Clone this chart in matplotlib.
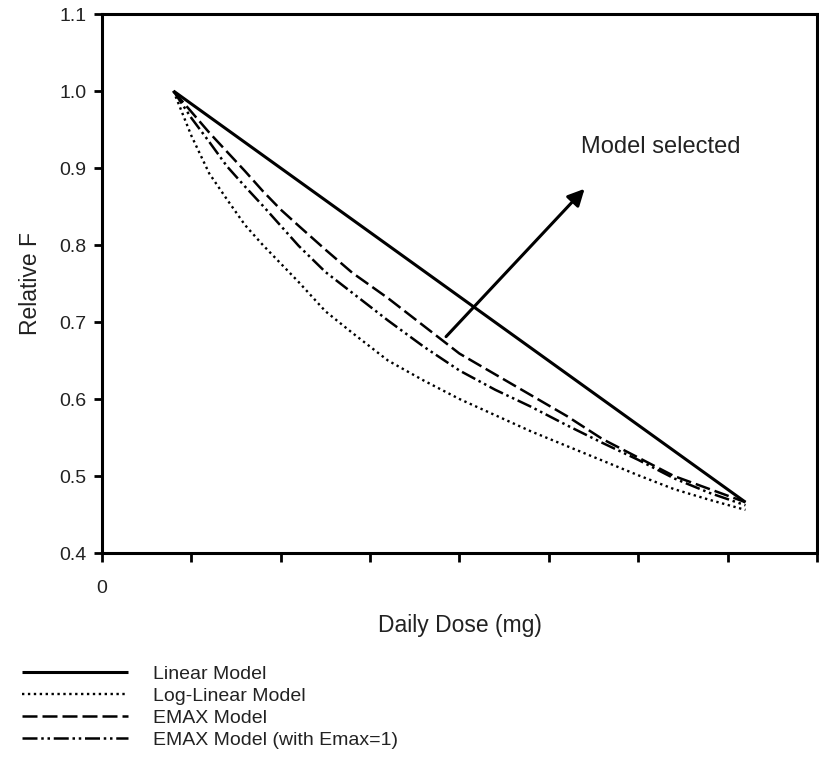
import matplotlib

matplotlib.use("Agg")
import matplotlib.pyplot as plt

plt.rcParams["font.family"] = ["Liberation Sans", "DejaVu Sans"]

# dose axis: 10 mg per tick, only the origin is labelled
dose_ticks = [0, 10, 20, 30, 40, 50, 60, 70, 80]
dose_tick_labels = ["0", "", "", "", "", "", "", "", ""]

linear_dose = [8, 72]
linear_f = [1.0, 0.466]

dose = [8, 10, 12, 14, 16, 18, 20, 22, 25, 28, 32, 36, 40, 44, 48, 52, 56, 60, 64, 68, 72]
loglinear_f = [1.0, 0.942, 0.893, 0.859, 0.826, 0.800, 0.776, 0.752, 0.714, 0.686, 0.650,
               0.624, 0.600, 0.579, 0.558, 0.539, 0.520, 0.501, 0.483, 0.469, 0.456]
emax_f = [1.0, 0.973, 0.946, 0.921, 0.896, 0.870, 0.846, 0.825, 0.794, 0.764, 0.731,
          0.695, 0.659, 0.632, 0.605, 0.578, 0.548, 0.524, 0.500, 0.483, 0.466]
emax1_f = [1.0, 0.965, 0.934, 0.902, 0.876, 0.851, 0.825, 0.799, 0.765, 0.738, 0.702,
           0.668, 0.637, 0.612, 0.590, 0.566, 0.543, 0.521, 0.497, 0.478, 0.462]

labels = ["Linear Model", "Log-Linear Model", "EMAX Model", "EMAX Model (with Emax=1)"]

arrow_tail = (38.5, 0.681)
arrow_head = (54.0, 0.873)

fig = plt.figure(figsize=(8.19, 7.61), dpi=100)
ax = fig.add_axes([0.1245, 0.2733, 0.873, 0.7083])

h1, = ax.plot(linear_dose, linear_f, color="black", lw=2.2, solid_capstyle="butt")
h2, = ax.plot(dose, loglinear_f, color="black", lw=1.7, linestyle=(0, (1, 1.5)))
h3, = ax.plot(dose, emax_f, color="black", lw=1.8, linestyle=(0, (6, 2)))
h4, = ax.plot(dose, emax1_f, color="black", lw=1.8,
              linestyle=(0, (6, 1.5, 1, 1.5, 1, 1.5)))

ax.annotate("", xy=arrow_head, xytext=arrow_tail,
            arrowprops=dict(arrowstyle="-|>,head_length=1.0,head_width=0.5",
                            color="black", lw=2.2, shrinkA=0, shrinkB=0))
ax.text(53.6, 0.927, "Model selected", fontsize=17, color="#222222",
        ha="left", va="center")

ax.set_xlim(0, 80)
ax.set_ylim(0.4, 1.1)
ax.set_xticks(dose_ticks)
ax.set_xticklabels(dose_tick_labels)
ax.set_yticks([0.4, 0.5, 0.6, 0.7, 0.8, 0.9, 1.0, 1.1])
ax.set_yticklabels(["0.4", "0.5", "0.6", "0.7", "0.8", "0.9", "1.0", "1.1"])
ax.tick_params(axis="both", direction="out", width=2, color="black",
               labelsize=14, labelcolor="#222222")
ax.tick_params(axis="x", length=6.5, pad=13)
ax.tick_params(axis="y", length=6, pad=5)
for sp in ax.spines.values():
    sp.set_linewidth(2.2)
    sp.set_color("black")

ax.set_xlabel("Daily Dose (mg)", fontsize=16.5, color="#222222", labelpad=12.5)
ax.set_ylabel("Relative F", fontsize=16.5, color="#222222", labelpad=12.5)

fig.legend([h1, h2, h3, h4], labels, loc="upper left",
           bbox_to_anchor=(0.027, 0.1254), frameon=False, fontsize=14,
           handlelength=5.45, handletextpad=1.29, labelspacing=0.22,
           borderaxespad=0, borderpad=0, labelcolor="#222222")

fig.savefig("out.png", dpi=100)
plt.close(fig)
